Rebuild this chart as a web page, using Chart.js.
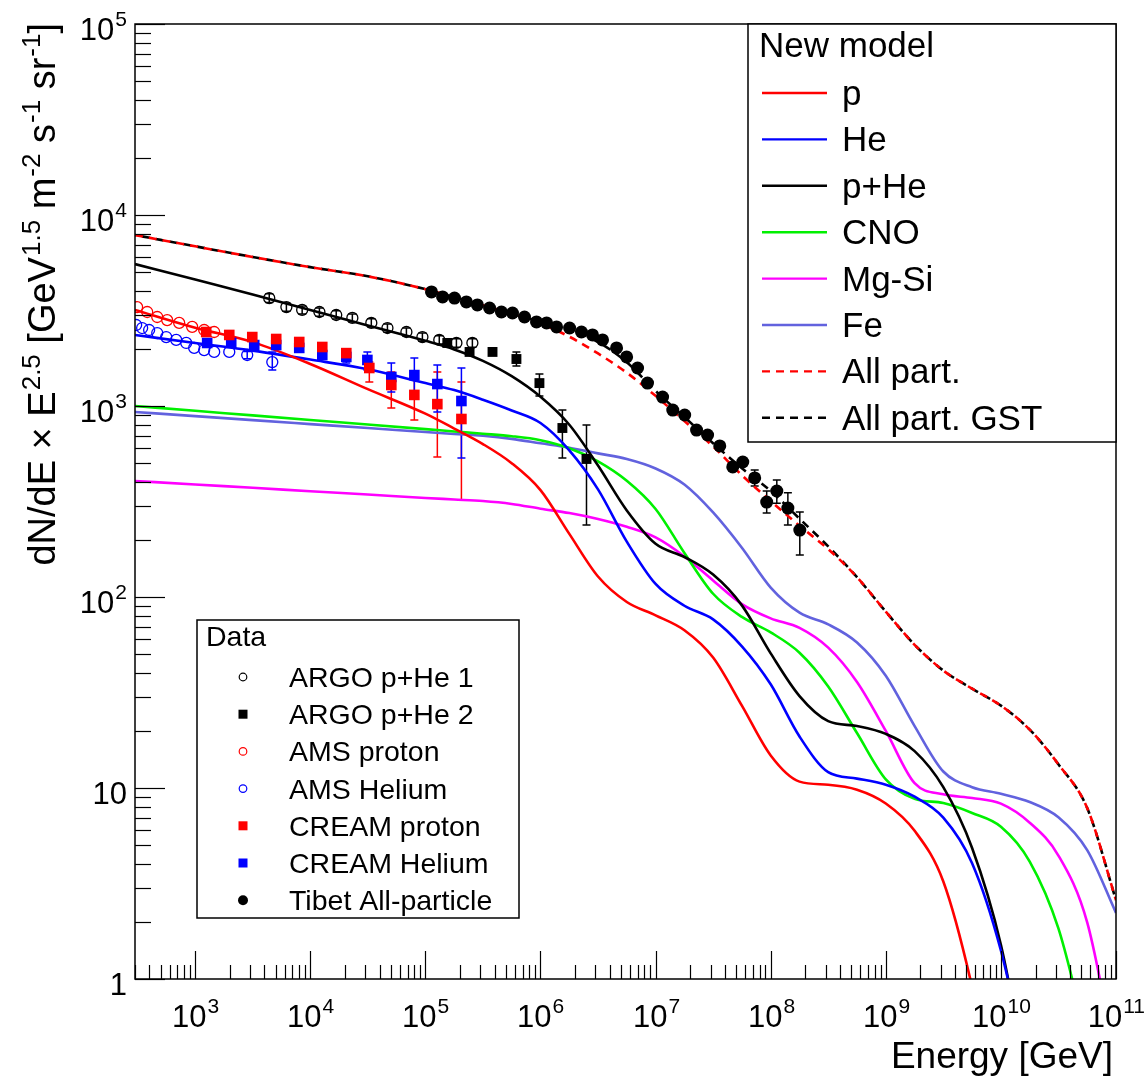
<!DOCTYPE html>
<html>
<head>
<meta charset="utf-8">
<script src="https://cdn.jsdelivr.net/npm/chart.js@4.4.1/dist/chart.umd.min.js"></script>
<style>
  body { margin: 0; background: #fff; }
  #wrap { width: 1146px; height: 1076px; position: relative; }
</style>
</head>
<body>
<div id="wrap"><canvas id="chart"></canvas></div>
<script>
// model curves (flux x E^2.5) on a common energy grid (GeV)
const energyGrid = [3e2, 1e3, 3.16e3, 1e4, 3.16e4, 1e5, 1.78e5, 3.16e5, 5.62e5, 1e6,
  1.78e6, 3.16e6, 5.62e6, 1e7, 1.78e7, 3.16e7, 5.62e7, 1e8, 1.78e8, 3.16e8,
  5.62e8, 1e9, 1.78e9, 3.16e9, 5.62e9, 1e10, 1.78e10, 3.16e10, 5.62e10, 1e11];

const protonModel = [3185, 2570, 2160, 1660, 1225, 912, 762, 632, 502, 363,
  214, 128, 94.2, 80.2, 67, 48.2, 27, 14.8, 10.8, 10.4,
  9.8, 8.3, 5.97, 3.24, 0.91, 0.16, null, null, null, null];
const heliumModel = [2355, 2138, 1950, 1750, 1556, 1318, 1211, 1079, 948, 815,
  586, 366, 195, 117, 90, 76.4, 55.2, 34.9, 18.6, 12.1,
  11.2, 10.4, 9.0, 7.0, 4.04, 1.41, 0.3, null, null, null];
const pHeModel = [5535, 4590, 3837, 3185, 2640, 2193, 1977, 1722, 1432, 1117,
  798, 488, 284, 190, 162, 131, 90.4, 50.7, 30.3, 22.4,
  21.1, 19.2, 15.6, 10.1, 4.85, 1.51, 0.25, null, null, null];
const cnoModel = [1000, 944, 893, 845, 800, 757, 736, 716, 695, 662,
  601, 513, 406, 289, 170, 104, 78.7, 65.3, 51.1, 34.0,
  19.4, 11.1, 8.77, 8.34, 7.4, 6.27, 4.12, 1.84, 0.48, null];
const mgsiModel = [405, 388, 373, 358, 344, 330, 324, 318, 307, 290,
  275, 256, 233, 205, 163, 122, 91.8, 77.3, 68.9, 54.3,
  35.9, 19.9, 10.6, 9.27, 8.87, 8.28, 6.58, 4.43, 1.98, 0.37];
const feModel = [931, 885, 843, 804, 767, 731, 714, 698, 673, 638,
  605, 565, 528, 471, 388, 277, 181, 112, 82.8, 71.9,
  57.8, 38.7, 21.1, 12.2, 10.1, 9.33, 8.45, 7.03, 4.73, 2.22];
const allModel = [7850, 6855, 6025, 5333, 4775, 4090, 3715, 3365, 3040, 2704,
  2307, 1884, 1493, 1130, 834, 614, 434, 318, 236, 178,
  127, 83.8, 56.2, 41.2, 33.1, 27.0, 20.2, 13.3, 7.85, 2.59];
const allGstModel = [7850, 6855, 6025, 5333, 4775, 4090, 3715, 3365, 3040, 2754,
  2512, 2163, 1694, 1199, 875, 638, 472, 359, 257, 184,
  127, 83.8, 56.2, 41.2, 33.1, 27.0, 20.2, 13.3, 7.85, 2.59];

// measurements
const argo1E = [4.4e3, 6.2e3, 8.5e3, 1.2e4, 1.68e4, 2.32e4, 3.39e4, 4.68e4, 6.84e4, 9.42e4, 1.32e5, 1.86e5, 2.56e5];
const argo1Flux = [3670, 3296, 3185, 3105, 2995, 2890, 2722, 2560, 2440, 2296, 2218, 2138, 2138];
const argo1Low = [3480, 3130, 3030, 2950, 2850, 2750, 2590, 2430, 2320, 2180, 2110, 2030, 2030];
const argo1High = [3870, 3460, 3340, 3260, 3150, 3030, 2860, 2690, 2560, 2410, 2330, 2250, 2250];

const argo2E = [1.55e5, 2.42e5, 3.83e5, 6.18e5, 9.79e5, 1.55e6, 2.51e6];
const argo2Flux = [2138, 1919, 1919, 1762, 1318, 767, 528];
const argo2Low = [null, null, null, 1618, 1127, 534, 238];
const argo2High = [null, null, null, 1919, 1472, 952, 796];

const amsProtonE = [313, 383, 468, 571, 726, 942, 1197, 1462];
const amsProtonFlux = [3296, 3105, 2924, 2818, 2722, 2594, 2500, 2440];

const amsHeliumE = [307, 346, 398, 468, 560, 684, 836, 980, 1197, 1462, 1977, 2831, 4677];
const amsHeliumFlux = [2655, 2560, 2500, 2410, 2296, 2218, 2138, 2014, 1963, 1919, 1919, 1849, 1698];
const amsHeliumLow = [null, null, null, null, null, null, null, null, null, null, null, 1770, 1542];
const amsHeliumHigh = [null, null, null, null, null, null, null, null, null, null, null, 1930, 1919];

const creamProtonE = [1247, 1977, 3133, 5058, 8017, 12710, 20560, 32580, 50580, 80170, 1.27e5, 2.056e5];
const creamProtonFlux = [2440, 2355, 2296, 2243, 2163, 2037, 1892, 1581, 1288, 1143, 1023, 855];
const creamProtonLow = [null, null, null, null, null, null, null, 1337, 977, 845, 541, 322];
const creamProtonHigh = [null, null, null, null, null, null, null, 1698, 1507, 1368, 1507, 1337];

const creamHeliumE = [1271, 2056, 3258, 5058, 8017, 12710, 20560, 31330, 50580, 80170, 1.27e5, 2.056e5];
const creamHeliumFlux = [2138, 2138, 2085, 2085, 2014, 1849, 1807, 1742, 1419, 1452, 1303, 1062];
const creamHeliumLow = [null, null, null, null, null, null, 1679, 1542, 1183, 1169, 931, 534];
const creamHeliumHigh = [null, null, null, null, null, null, 1963, 1919, 1679, 1782, 1641, 1581];

const tibetE = [1.13e5, 1.41e5, 1.79e5, 2.27e5, 2.83e5, 3.61e5, 4.58e5, 5.71e5, 7.26e5, 9.23e5,
  1.13e6, 1.38e6, 1.79e6, 2.27e6, 2.83e6, 3.46e6, 4.58e6, 5.6e6, 6.97e6, 8.51e6,
  1.15e7, 1.41e7, 1.79e7, 2.27e7, 2.83e7, 3.61e7, 4.68e7, 5.72e7, 7.26e7, 9.23e7,
  1.13e8, 1.41e8, 1.79e8];
const tibetFlux = [3955, 3725, 3673, 3508, 3381, 3258, 3105, 3069, 2924, 2754,
  2722, 2594, 2560, 2440, 2355, 2218, 2014, 1807, 1581, 1318,
  1114, 952, 897, 748, 705, 618, 480, 509, 420, 314,
  359, 292, 224];
const tibetLow = [null, null, null, null, null, null, null, null, null, null,
  null, null, null, null, null, null, null, null, null, null,
  null, null, null, null, null, null, null, null, 381, 275,
  310, 238, 166];
const tibetHigh = [null, null, null, null, null, null, null, null, null, null,
  null, null, null, null, null, null, null, null, null, null,
  null, null, null, null, null, null, null, null, 462, 359,
  410, 351, 279];

const FONT = '"Liberation Sans", Arial, Helvetica, sans-serif';
const FE_COLOR = '#6262de';

function curve(values) {
    const pts = [];
    values.forEach((v, i) => {
        if (v !== null) pts.push({ x: energyGrid[i], y: v });
    });
    return pts;
}

function points(energies, values) {
    return energies.map((e, i) => ({ x: e, y: values[i] }));
}

function modelLine(label, values, color, dash, dashOffset) {
    return {
        group: 'model',
        label: label,
        data: curve(values),
        borderColor: color,
        backgroundColor: color,
        borderWidth: 2.6,
        borderDash: dash || [],
        borderDashOffset: dashOffset || 0,
        pointRadius: 0,
        fill: false,
        cubicInterpolationMode: 'monotone',
        order: 2
    };
}

function dataSet(label, e, v, style, color, open, radius, low, high) {
    return {
        group: 'data',
        label: label,
        data: points(e, v),
        showLine: false,
        pointStyle: style,
        pointRadius: radius,
        borderColor: color,
        backgroundColor: open ? 'rgba(0,0,0,0)' : color,
        pointBorderWidth: open ? 1.3 : 0,
        errLow: low || null,
        errHigh: high || null,
        order: 1
    };
}

// draws base + superscript, anchored at x (center or right)
function drawPower(ctx, base, exp, x, y, size, align) {
    const supSize = Math.round(size * 0.68);
    ctx.font = size + 'px ' + FONT;
    const wb = ctx.measureText(base).width;
    ctx.font = supSize + 'px ' + FONT;
    const we = exp ? ctx.measureText(exp).width + 1 : 0;
    const total = wb + we;
    let x0 = align === 'center' ? x - total / 2 : x - total;
    if (x0 + total > 1145) x0 = 1145 - total;
    ctx.textAlign = 'left';
    ctx.textBaseline = 'alphabetic';
    ctx.font = size + 'px ' + FONT;
    ctx.fillText(base, x0, y);
    if (exp) {
        ctx.font = supSize + 'px ' + FONT;
        ctx.fillText(exp, x0 + wb + 1, y - 14);
    }
}

const yTitleParts = [['dN/dE \u00d7 E', false], ['2.5', true], [' [GeV', false], ['1.5', true],
    [' m', false], ['-2', true], [' s', false], ['-1', true], [' sr', false], ['-1', true], [']', false]];

const axesPlugin = {
    id: 'rootAxes',
    afterDraw(chart) {
        const ctx = chart.ctx;
        const a = chart.chartArea;
        const xs = chart.scales.x;
        const ys = chart.scales.y;
        ctx.save();
        ctx.strokeStyle = '#000';
        ctx.fillStyle = '#000';
        ctx.lineWidth = 1.5;
        ctx.strokeRect(a.left, a.top, a.right - a.left, a.bottom - a.top);

        // x ticks (inside, from the bottom)
        ctx.lineWidth = 1.2;
        for (let d = 2; d <= 11; d++) {
            for (let m = 1; m <= 9; m++) {
                const v = m * Math.pow(10, d);
                if (v < xs.min * 0.999 || v > xs.max * 1.001) continue;
                const px = Math.round(xs.getPixelForValue(v)) + 0.5;
                const len = m === 1 ? 28 : 14;
                ctx.beginPath();
                ctx.moveTo(px, a.bottom);
                ctx.lineTo(px, a.bottom - len);
                ctx.stroke();
                if (m === 1) drawPower(ctx, '10', String(d), px, 1027, 31, 'center');
            }
        }
        // y ticks (inside, from the left)
        for (let d = 0; d <= 5; d++) {
            for (let m = 1; m <= 9; m++) {
                const v = m * Math.pow(10, d);
                if (v > ys.max * 1.001) continue;
                const py = Math.round(ys.getPixelForValue(v)) + 0.5;
                const len = m === 1 ? 30 : 16;
                ctx.beginPath();
                ctx.moveTo(a.left, py);
                ctx.lineTo(a.left + len, py);
                ctx.stroke();
                if (m === 1) {
                    if (d === 0) drawPower(ctx, '1', '', 127, py + 15, 31, 'right');
                    else if (d === 1) drawPower(ctx, '10', '', 127, py + 15, 31, 'right');
                    else drawPower(ctx, '10', String(d), 127, py + 15, 31, 'right');
                }
            }
        }

        // x title
        ctx.font = '37px ' + FONT;
        ctx.textAlign = 'right';
        ctx.fillText('Energy [GeV]', 1113, 1068);

        // y title, rotated, ending at the top
        const mainSize = 38, supSize = 26;
        let total = 0;
        yTitleParts.forEach(([t, sup]) => {
            ctx.font = (sup ? supSize : mainSize) + 'px ' + FONT;
            total += ctx.measureText(t).width + (sup ? 1 : 0);
        });
        ctx.translate(55, 0);
        ctx.rotate(-Math.PI / 2);
        ctx.textAlign = 'left';
        let u = -23 - total;
        yTitleParts.forEach(([t, sup]) => {
            ctx.font = (sup ? supSize : mainSize) + 'px ' + FONT;
            ctx.fillText(t, u + (sup ? 1 : 0), sup ? -15 : 0);
            u += ctx.measureText(t).width + (sup ? 1 : 0);
        });
        ctx.restore();

        drawLegends(chart);
    },
    beforeDatasetsDraw(chart) {
        const ctx = chart.ctx;
        const xs = chart.scales.x;
        const ys = chart.scales.y;
        const a = chart.chartArea;
        ctx.save();
        ctx.beginPath();
        ctx.rect(a.left, a.top, a.right - a.left, a.bottom - a.top);
        ctx.clip();
        ctx.lineWidth = 1.5;
        chart.data.datasets.forEach(ds => {
            if (!ds.errLow) return;
            ctx.strokeStyle = ds.borderColor;
            ds.data.forEach((p, i) => {
                if (ds.errLow[i] === null) return;
                const px = xs.getPixelForValue(p.x);
                const y1 = ys.getPixelForValue(ds.errLow[i]);
                const y2 = ys.getPixelForValue(ds.errHigh[i]);
                ctx.beginPath();
                ctx.moveTo(px, y1);
                ctx.lineTo(px, y2);
                ctx.moveTo(px - 4, y1);
                ctx.lineTo(px + 4, y1);
                ctx.moveTo(px - 4, y2);
                ctx.lineTo(px + 4, y2);
                ctx.stroke();
            });
        });
        ctx.restore();
    }
};

function drawMarker(ctx, style, color, open, r, x, y) {
    ctx.fillStyle = color;
    ctx.strokeStyle = color;
    ctx.lineWidth = 1.2;
    if (style === 'rect') {
        ctx.fillRect(x - r, y - r, 2 * r, 2 * r);
    } else {
        ctx.beginPath();
        ctx.arc(x, y, r, 0, Math.PI * 2);
        if (open) ctx.stroke(); else ctx.fill();
    }
}

function drawLegends(chart) {
    const ctx = chart.ctx;
    const dsets = chart.data.datasets;
    ctx.save();
    ctx.textAlign = 'left';
    ctx.textBaseline = 'alphabetic';

    // model legend
    ctx.fillStyle = '#fff';
    ctx.fillRect(748, 24, 368, 418);
    ctx.strokeStyle = '#000';
    ctx.lineWidth = 1.5;
    ctx.strokeRect(748, 24, 368, 418);
    ctx.fillStyle = '#000';
    ctx.font = '35px ' + FONT;
    ctx.fillText('New model', 759, 57);
    const models = dsets.filter(d => d.group === 'model');
    models.forEach((d, i) => {
        const y = 93 + i * 46.4;
        ctx.strokeStyle = d.borderColor;
        ctx.lineWidth = 2.4;
        ctx.setLineDash(d.borderDash);
        ctx.beginPath();
        ctx.moveTo(762, y);
        ctx.lineTo(827, y);
        ctx.stroke();
        ctx.setLineDash([]);
        ctx.fillStyle = '#000';
        ctx.font = '35px ' + FONT;
        ctx.fillText(d.label, 842, y + 12);
    });

    // data legend
    ctx.fillStyle = '#fff';
    ctx.fillRect(197, 620, 322, 298);
    ctx.strokeStyle = '#000';
    ctx.lineWidth = 1.5;
    ctx.strokeRect(197, 620, 322, 298);
    ctx.fillStyle = '#000';
    ctx.font = '28.5px ' + FONT;
    ctx.fillText('Data', 206, 646);
    const data = dsets.filter(d => d.group === 'data');
    data.forEach((d, i) => {
        const y = 677 + i * 37.2;
        const open = d.backgroundColor === 'rgba(0,0,0,0)';
        const r = d.pointStyle === 'rect' ? 4.5 : (open ? 3.8 : 5);
        drawMarker(ctx, d.pointStyle, d.borderColor, open, r, 243, y);
        ctx.fillStyle = '#000';
        ctx.font = '28.5px ' + FONT;
        ctx.fillText(d.label, 289, y + 10);
    });
    ctx.restore();
}

const datasets = [
    modelLine('p', protonModel, '#ff0000'),
    modelLine('He', heliumModel, '#0000ff'),
    modelLine('p+He', pHeModel, '#000000'),
    modelLine('CNO', cnoModel, '#00f000'),
    modelLine('Mg-Si', mgsiModel, '#ff00ff'),
    modelLine('Fe', feModel, FE_COLOR),
    modelLine('All part.', allModel, '#ff0000', [8, 6]),
    modelLine('All part. GST', allGstModel, '#000000', [8, 6], 7),
    dataSet('ARGO p+He 1', argo1E, argo1Flux, 'circle', '#000000', true, 5.5, argo1Low, argo1High),
    dataSet('ARGO p+He 2', argo2E, argo2Flux, 'rect', '#000000', false, 7, argo2Low, argo2High),
    dataSet('AMS proton', amsProtonE, amsProtonFlux, 'circle', '#ff0000', true, 5.5),
    dataSet('AMS Helium', amsHeliumE, amsHeliumFlux, 'circle', '#0000ff', true, 5.5, amsHeliumLow, amsHeliumHigh),
    dataSet('CREAM proton', creamProtonE, creamProtonFlux, 'rect', '#ff0000', false, 7.5, creamProtonLow, creamProtonHigh),
    dataSet('CREAM Helium', creamHeliumE, creamHeliumFlux, 'rect', '#0000ff', false, 7.5, creamHeliumLow, creamHeliumHigh),
    dataSet('Tibet All-particle', tibetE, tibetFlux, 'circle', '#000000', false, 6.5, tibetLow, tibetHigh)
];

const ctx = document.getElementById('chart').getContext('2d');
new Chart(ctx, {
    type: 'line',
    data: { datasets: datasets },
    options: {
        responsive: true,
        maintainAspectRatio: false,
        animation: false,
        events: [],
        layout: { padding: { left: 135, top: 24, right: 30, bottom: 97 } },
        plugins: { legend: { display: false }, tooltip: { enabled: false } },
        scales: {
            x: { type: 'logarithmic', min: 300, max: 1e11, display: false },
            y: { type: 'logarithmic', min: 1, max: 1e5, display: false }
        }
    },
    plugins: [axesPlugin]
});
</script>
</body>
</html>
